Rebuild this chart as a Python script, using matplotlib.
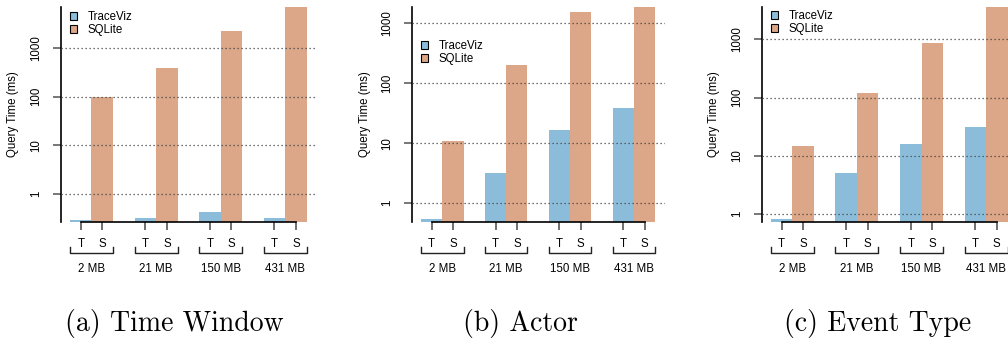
import numpy as np
import matplotlib.pyplot as plt
from matplotlib.patches import Patch
from matplotlib.transforms import blended_transform_factory

# query times in ms, one value per trace size
sizes = ['2 MB', '21 MB', '150 MB', '431 MB']
captions = ['(a) Time Window', '(b) Actor', '(c) Event Type']

traceviz_time = [0.29, 0.31, 0.41, 0.31]
sqlite_time = [100, 383, 2270, 7080]

traceviz_actor = [0.54, 3.24, 16.3, 39.3]
sqlite_actor = [11.1, 201, 1540, 1867]

traceviz_event = [0.82, 5.1, 15.9, 31]
sqlite_event = [14.7, 120, 865, 3580]

blue = '#8bbddb'
orange = '#dba788'

W, H = 1008, 342
fig = plt.figure(figsize=(W / 100, H / 100), dpi=100)
plt.rcParams['font.family'] = ['Liberation Sans', 'DejaVu Sans']
fs = 8.3

# axes placement in pixels: left, right, legend top (px from axes top)
panels = [
    (traceviz_time, sqlite_time, 60.5, 316.2, 4),
    (traceviz_actor, sqlite_actor, 411.6, 664.7, 33),
    (traceviz_event, sqlite_event, 761.5, 1017.0, 3),
]
top_px, bot_px = 7, 222

for k, (tv, sq, lpx, rpx, leg_top) in enumerate(panels):
    ax = fig.add_axes([lpx / W, 1 - bot_px / H, (rpx - lpx) / W, (bot_px - top_px) / H])
    wpx = rpx - lpx
    hpx = bot_px - top_px
    g = np.arange(len(sizes)) * 3
    xt = g + 1.5
    xs = g + 2.5
    ax.bar(xt, tv, width=1, color=blue, zorder=1)
    ax.bar(xs, sq, width=1, color=orange, zorder=1)
    ax.set_yscale('log')
    ax.set_ylim(0.9 * min(tv), max(sq))
    ax.set_xlim(0.56, 12.44)

    yt = [1, 10, 100, 1000]
    ax.set_yticks(yt)
    ax.set_yticklabels([str(v) for v in yt], rotation=90, va='center', fontsize=fs)
    ax.minorticks_off()
    for v in yt:
        ax.axhline(v, color='#444444', lw=0.9, ls=(0, (1, 2.2)), zorder=3)

    ticks = np.sort(np.concatenate([xt, xs]))
    ax.set_xticks(ticks)
    ax.set_xticklabels(['T', 'S'] * len(sizes), fontsize=fs)
    ax.tick_params(axis='x', length=5.5, width=1.2, color='#555555', pad=6)
    ax.tick_params(axis='y', length=5.5, width=1.4, color='#777777', pad=8)

    for s in ['top', 'right']:
        ax.spines[s].set_visible(False)
    ax.spines['left'].set_linewidth(1.2)
    ax.spines['bottom'].set_linewidth(1.2)
    ax.spines['bottom'].set_bounds(ticks[0], ticks[-1])

    tr = blended_transform_factory(ax.transData, ax.transAxes)
    yb = -(253 - bot_px) / hpx
    yb2 = -(247 - bot_px) / hpx
    for gi, name in zip(g, sizes):
        x0, x1 = gi + 1, gi + 3
        ax.plot([x0, x0, x1, x1], [yb2, yb, yb, yb2], color='#222222', lw=1.0,
                transform=tr, clip_on=False)
        ax.text(gi + 2, -(269 - bot_px) / hpx, name, transform=tr,
                ha='center', va='center', fontsize=fs)

    ax.text(-47 / wpx, 0.5, 'Query Time (ms)', transform=ax.transAxes,
            rotation=90, ha='center', va='center', fontsize=fs)

    handles = [Patch(facecolor=blue, edgecolor='black', lw=0.8),
               Patch(facecolor=orange, edgecolor='black', lw=0.8)]
    ax.legend(handles, ['TraceViz', 'SQLite'], loc='upper left',
              bbox_to_anchor=(9 / wpx, 1 - leg_top / hpx), frameon=False,
              fontsize=fs, handlelength=0.65, handleheight=0.65,
              handletextpad=0.9, labelspacing=0.12, borderpad=0,
              borderaxespad=0)

    cx = [174.7, 520, 878][k]
    fig.text(cx / W, 1 - 323 / H, captions[k], family='cmr10', fontsize=20,
             ha='center', va='center')

fig.savefig('out.png', dpi=100)
